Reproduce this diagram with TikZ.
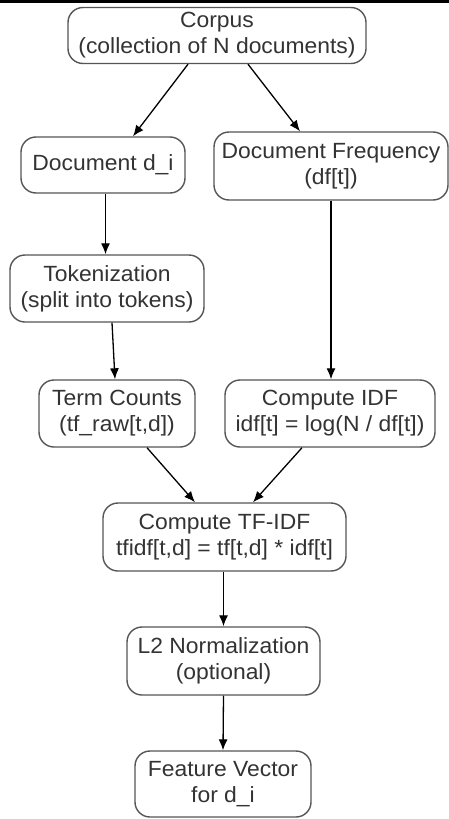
\documentclass[tikz,border=0pt]{standalone}
\usepackage{fontspec}
\setmainfont[FakeStretch=1.04]{Liberation Sans}
\usetikzlibrary{arrows.meta}
\definecolor{boxline}{HTML}{555555}
\definecolor{boxtext}{HTML}{333333}
\tikzset{
  stepbox/.style={draw=boxline, line width=1.4pt, rounded corners=15pt,
    fill=white, text=boxtext, align=center, inner sep=0pt,
    font=\fontsize{22}{26}\selectfont},
  flow/.style={draw=black, line width=1.3pt, -{Latex[length=11pt,width=9pt]}}
}
\begin{document}
\begin{tikzpicture}[x=1pt,y=-1pt]
  \useasboundingbox (0,0) rectangle (449,819);
  \fill[white] (0,0) rectangle (449,819);
  \fill[black] (0,0) rectangle (449,2.5);

  % pipeline steps
  \node[stepbox, minimum width=298pt, minimum height=56pt] (corpus) at (217,35.5)
    {Corpus\\(collection of N documents)};
  \node[stepbox, minimum width=164pt, minimum height=56pt] (doc) at (103,165)
    {Document d\_i};
  \node[stepbox, minimum width=234pt, minimum height=68pt] (df) at (331,166)
    {Document Frequency\\(df[t])};
  \node[stepbox, minimum width=194pt, minimum height=67pt] (tok) at (107,288.5)
    {Tokenization\\(split into tokens)};
  \node[stepbox, minimum width=156pt, minimum height=67pt] (tc) at (117,413.5)
    {Term Counts\\(tf\_raw[t,d])};
  \node[stepbox, minimum width=210pt, minimum height=67pt] (idf) at (330,413.5)
    {Compute IDF\\idf[t] = log(N / df[t])};
  \node[stepbox, minimum width=243pt, minimum height=68pt] (tfidf) at (224.5,537)
    {Compute TF-IDF\\tfidf[t,d] = tf[t,d] * idf[t]};
  \node[stepbox, minimum width=193pt, minimum height=68pt] (l2) at (223.5,661)
    {L2 Normalization\\(optional)};
  \node[stepbox, minimum width=176pt, minimum height=66pt] (fv) at (223,784)
    {Feature Vector\\for d\_i};

  % connectors
  \draw[flow] ([xshift=-29pt]corpus.south) -- ([xshift=30pt]doc.north);
  \draw[flow] ([xshift=31pt]corpus.south) -- ([xshift=-31pt]df.north);
  \draw[flow] ([xshift=2.5pt]doc.south) -- ([xshift=-1.5pt]tok.north);
  \draw[flow] (df.south) -- (df.south |- idf.north);
  \draw[flow] ([xshift=5pt]tok.south) -- ([xshift=-2pt]tc.north);
  \draw[flow] ([xshift=30pt]tc.south) -- ([xshift=-29.5pt]tfidf.north);
  \draw[flow] ([xshift=-28pt]idf.south) -- ([xshift=28.5pt]tfidf.north);
  \draw[flow] ([xshift=-1pt]tfidf.south) -- (l2.north);
  \draw[flow] (l2.south) -- (fv.north);
\end{tikzpicture}
\end{document}
